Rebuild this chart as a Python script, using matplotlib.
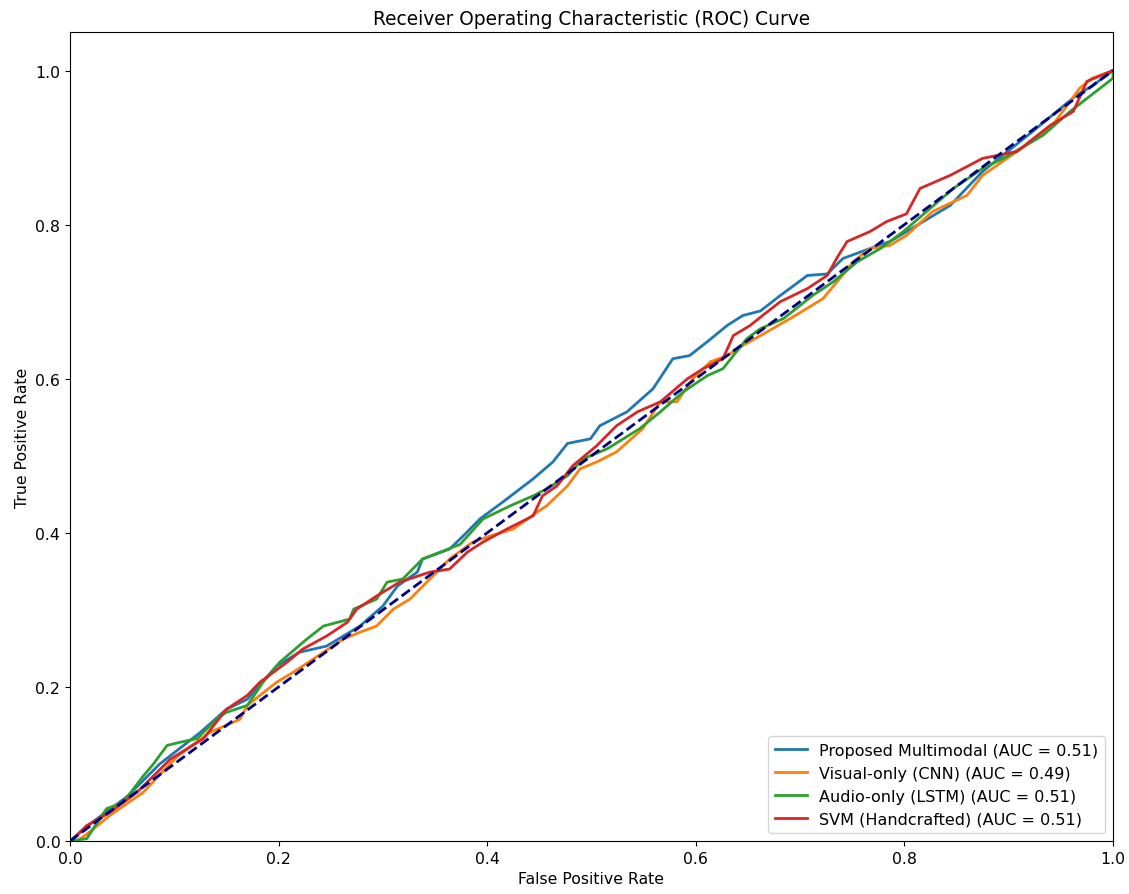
import matplotlib
matplotlib.use('Agg')
import matplotlib.pyplot as plt

# Curvas ROC (FPR, TPR)
fpr_multi = [0.0, 0.022, 0.055, 0.086, 0.125, 0.15, 0.17, 0.198, 0.22, 0.246, 0.278,
             0.30, 0.314, 0.333, 0.338, 0.364, 0.377, 0.393, 0.415, 0.444, 0.463, 0.477,
             0.499, 0.508, 0.534, 0.559, 0.578, 0.594, 0.611, 0.63, 0.645, 0.662, 0.681,
             0.707, 0.726, 0.741, 0.767, 0.786, 0.812, 0.844, 0.875, 0.923, 0.965, 0.98, 1.0]
tpr_multi = [0.0, 0.025, 0.058, 0.10, 0.141, 0.171, 0.184, 0.227, 0.245, 0.253, 0.279,
             0.305, 0.331, 0.349, 0.366, 0.379, 0.396, 0.418, 0.44, 0.47, 0.492, 0.516,
             0.522, 0.539, 0.557, 0.587, 0.626, 0.63, 0.648, 0.669, 0.682, 0.688, 0.708,
             0.734, 0.736, 0.756, 0.769, 0.778, 0.799, 0.825, 0.869, 0.921, 0.968, 0.98, 1.0]

fpr_visual = [0.0, 0.007, 0.019, 0.038, 0.07, 0.103, 0.134, 0.163, 0.17, 0.198, 0.214,
              0.243, 0.262, 0.278, 0.294, 0.31, 0.326, 0.345, 0.364, 0.386, 0.403, 0.425,
              0.448, 0.457, 0.477, 0.489, 0.505, 0.524, 0.549, 0.566, 0.582, 0.597, 0.614,
              0.63, 0.645, 0.662, 0.693, 0.722, 0.738, 0.751, 0.767, 0.786, 0.802, 0.827,
              0.86, 0.875, 0.908, 0.94, 0.968, 0.98, 1.0]
tpr_visual = [0.0, 0.0, 0.012, 0.033, 0.063, 0.11, 0.141, 0.158, 0.176, 0.206, 0.219,
              0.245, 0.262, 0.271, 0.279, 0.301, 0.314, 0.34, 0.366, 0.388, 0.396, 0.405,
              0.427, 0.435, 0.461, 0.483, 0.492, 0.505, 0.535, 0.57, 0.57, 0.60, 0.622,
              0.63, 0.643, 0.656, 0.68, 0.704, 0.73, 0.752, 0.769, 0.773, 0.786, 0.817,
              0.838, 0.864, 0.895, 0.925, 0.977, 0.99, 1.0]

fpr_audio = [0.0, 0.016, 0.035, 0.051, 0.07, 0.08, 0.093, 0.105, 0.122, 0.141, 0.15,
             0.17, 0.185, 0.201, 0.227, 0.243, 0.268, 0.272, 0.294, 0.304, 0.319, 0.338,
             0.374, 0.396, 0.422, 0.444, 0.457, 0.477, 0.492, 0.515, 0.546, 0.566, 0.588,
             0.611, 0.626, 0.636, 0.649, 0.662, 0.684, 0.712, 0.732, 0.755, 0.777, 0.799,
             0.847, 0.875, 0.895, 0.933, 0.959, 1.0, 1.0]
tpr_audio = [0.0, 0.003, 0.042, 0.05, 0.084, 0.10, 0.124, 0.128, 0.133, 0.159, 0.167,
             0.176, 0.206, 0.232, 0.262, 0.279, 0.288, 0.301, 0.314, 0.336, 0.34, 0.366,
             0.385, 0.418, 0.435, 0.448, 0.457, 0.474, 0.496, 0.509, 0.535, 0.557, 0.583,
             0.604, 0.613, 0.63, 0.652, 0.665, 0.678, 0.708, 0.726, 0.752, 0.769, 0.791,
             0.847, 0.873, 0.886, 0.916, 0.947, 0.99, 1.0]

fpr_svm = [0.0, 0.003, 0.016, 0.038, 0.064, 0.096, 0.128, 0.15, 0.17, 0.182, 0.208,
           0.223, 0.246, 0.266, 0.275, 0.294, 0.316, 0.345, 0.364, 0.381, 0.396, 0.419,
           0.444, 0.453, 0.467, 0.482, 0.505, 0.524, 0.544, 0.566, 0.592, 0.607, 0.626,
           0.636, 0.652, 0.664, 0.681, 0.707, 0.726, 0.735, 0.745, 0.767, 0.783, 0.802,
           0.815, 0.844, 0.875, 0.908, 0.94, 0.962, 0.975, 1.0]
tpr_svm = [0.0, 0.003, 0.02, 0.037, 0.063, 0.106, 0.133, 0.171, 0.189, 0.206, 0.232,
           0.249, 0.266, 0.284, 0.301, 0.318, 0.336, 0.349, 0.353, 0.375, 0.388, 0.405,
           0.422, 0.448, 0.461, 0.487, 0.513, 0.539, 0.557, 0.57, 0.60, 0.613, 0.626,
           0.656, 0.669, 0.682, 0.70, 0.717, 0.734, 0.756, 0.778, 0.791, 0.804, 0.814,
           0.847, 0.864, 0.886, 0.895, 0.929, 0.947, 0.986, 1.0]

labels = ['Proposed Multimodal (AUC = 0.51)',
          'Visual-only (CNN) (AUC = 0.49)',
          'Audio-only (LSTM) (AUC = 0.51)',
          'SVM (Handcrafted) (AUC = 0.51)']

fig = plt.figure(figsize=(11.29, 8.95), dpi=100)
ax = fig.add_axes([0.062, 0.0592, 0.9238, 0.9039])

ax.plot(fpr_multi, tpr_multi, color='tab:blue', lw=2, label=labels[0])
ax.plot(fpr_visual, tpr_visual, color='tab:orange', lw=2, label=labels[1])
ax.plot(fpr_audio, tpr_audio, color='tab:green', lw=2, label=labels[2])
ax.plot(fpr_svm, tpr_svm, color='tab:red', lw=2, label=labels[3])
ax.plot([0, 1], [0, 1], color='navy', lw=2, linestyle='--')

ax.set_xlim(0.0, 1.0)
ax.set_ylim(0.0, 1.05)
ax.set_xlabel('False Positive Rate', fontsize=11.3)
ax.set_ylabel('True Positive Rate', fontsize=11.3)
ax.set_title('Receiver Operating Characteristic (ROC) Curve', fontsize=13.4)
ax.tick_params(labelsize=11.3)
ax.legend(loc='lower right', fontsize=11.5)

fig.savefig('out.png', dpi=100)
